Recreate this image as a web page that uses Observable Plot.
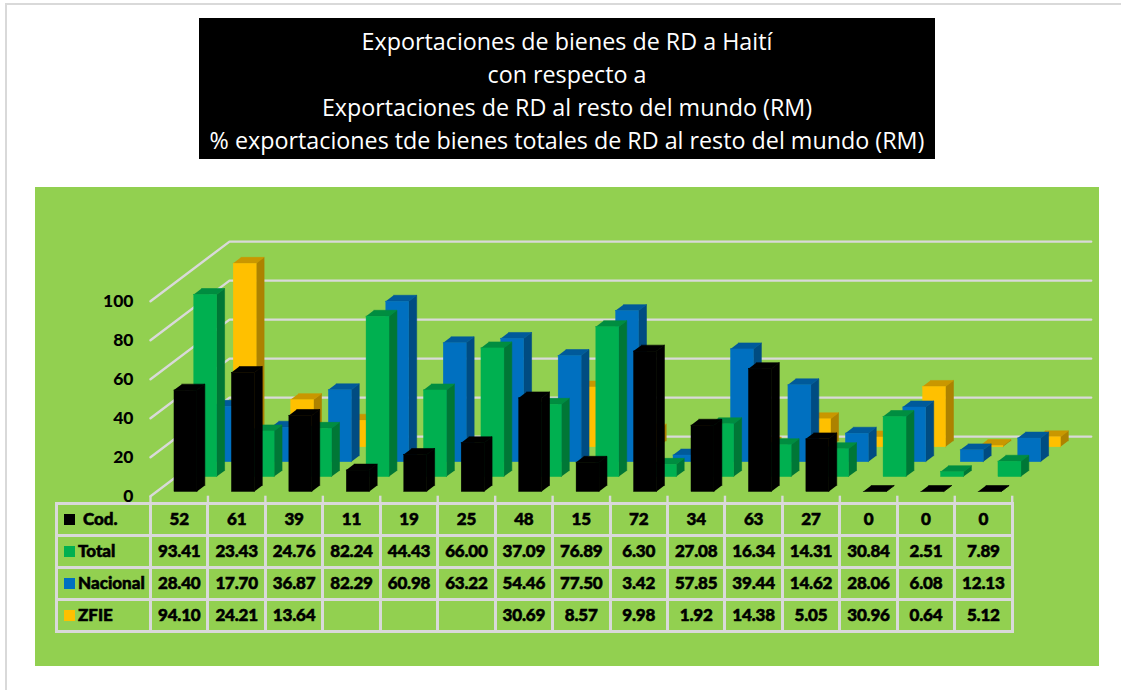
<!DOCTYPE html>
<html lang="es">
<head>
<meta charset="utf-8">
<script src="https://cdn.jsdelivr.net/npm/d3@7"></script>
<script src="https://cdn.jsdelivr.net/npm/@observablehq/plot@0.6"></script>
<style>
  html,body{margin:0;padding:0;background:#fff;width:1121px;height:690px;overflow:hidden}
  #frame{position:absolute;left:5px;top:3px;width:1130px;height:700px;border:2px solid #d9d9d9;box-sizing:border-box}
  #title{position:absolute;left:199px;top:18px;width:736px;height:141px;box-sizing:border-box;background:#000;color:#fff;
    font:23.3px/33px "Open Sans",sans-serif;text-align:center;padding-top:6.5px;white-space:nowrap}
  #panel{position:absolute;left:35px;top:187px;width:1064px;height:479px;background:#92D050}
  #panel svg{position:absolute;left:0;top:0;background:transparent;overflow:visible}
  #table{position:absolute;left:20px;top:315px;table-layout:fixed;border-collapse:collapse;
    font:900 17px Lato,sans-serif;color:#000;-webkit-text-stroke:0.55px #000}
  #table td{border:3px solid #d9d9d9;height:32px;padding:0 0 3px;text-align:center;box-sizing:border-box;letter-spacing:-0.2px}
  #table td.head{text-align:left;white-space:nowrap;letter-spacing:0}
  #table i{display:inline-block;width:11px;height:11px;margin:0 3px 0 6px;vertical-align:-0.5px}
</style>
</head>
<body>
<div id="frame"></div>
<div id="title"></div>
<div id="panel"></div>
<script>
const titleLines = [
  "Exportaciones de bienes de RD a Haití",
  "con respecto a",
  "Exportaciones de RD al resto del mundo (RM)",
  "% exportaciones tde bienes totales de RD al resto del mundo (RM)"
];
const cod      = [52, 61, 39, 11, 19, 25, 48, 15, 72, 34, 63, 27, 0, 0, 0];
const total    = [93.41, 23.43, 24.76, 82.24, 44.43, 66.00, 37.09, 76.89, 6.30, 27.08, 16.34, 14.31, 30.84, 2.51, 7.89];
const nacional = [28.40, 17.70, 36.87, 82.29, 60.98, 63.22, 54.46, 77.50, 3.42, 57.85, 39.44, 14.62, 28.06, 6.08, 12.13];
const zfie     = [94.10, 24.21, 13.64, null, null, null, 30.69, 8.57, 9.98, 1.92, 14.38, 5.05, 30.96, 0.64, 5.12];
const yTicks   = [0, 20, 40, 60, 80, 100];

// back to front, as the depth axis stacks them
const series = [
  {name: "ZFIE",     values: zfie,     slot: 3, front: "#FFC000", side: "#AD8200", top: "#C99700"},
  {name: "Nacional", values: nacional, slot: 2, front: "#0070C0", side: "#004C82", top: "#005A9A"},
  {name: "Total",    values: total,    slot: 1, front: "#00B050", side: "#007736", top: "#008D40"},
  {name: "Cod.",     values: cod,      slot: 0, front: "#000000", side: "#000000", top: "#000000"}
];

// oblique projection of the depth axis onto the chart's own x and y units
const depthX = 0.3438, depthY = 7.64, wall = 4;
const barFrom = 0.3, barTo = 0.7, floorGap = 0.315, barDepth = 0.4;
const px = (c, d) => c + d * depthX;
const py = (v, d) => v + d * depthY;

document.getElementById("title").innerHTML = titleLines.map(t => `<div>${t}</div>`).join("");

const gridRows = yTicks.flatMap(v => [
  {v, x: px(0, 0), y: py(v, 0)},
  {v, x: px(0, wall), y: py(v, wall)},
  {v, x: px(cod.length, wall), y: py(v, wall)}
]);
const bounds = d3.range(cod.length + 1);

const marks = [
  Plot.line(gridRows, {x: "x", y: "y", z: "v", stroke: "#D9D9D9", strokeWidth: 2.4}),
  Plot.ruleX(bounds, {x: d => d, y1: 0, y2: -4, stroke: "#D9D9D9", strokeWidth: 2.4})
];

for (const s of series) {
  const d0 = floorGap + s.slot, d1 = d0 + barDepth;
  const bars = s.values.map((v, i) => ({v, i})).filter(b => b.v != null);
  const rects = bars.map(b => ({
    x1: px(b.i + barFrom, d0), x2: px(b.i + barTo, d0), y1: py(0, d0), y2: py(b.v, d0)
  }));
  const sides = bars.flatMap(b => [
    [b.i + barTo, 0, d0], [b.i + barTo, b.v, d0], [b.i + barTo, b.v, d1], [b.i + barTo, 0, d1]
  ].map(([c, v, d]) => ({id: b.i, x: px(c, d), y: py(v, d)})));
  const tops = bars.flatMap(b => [
    [b.i + barFrom, d0], [b.i + barTo, d0], [b.i + barTo, d1], [b.i + barFrom, d1]
  ].map(([c, d]) => ({id: b.i, x: px(c, d), y: py(b.v, d)})));
  marks.push(
    Plot.line(sides, {x: "x", y: "y", z: "id", fill: s.side, stroke: s.side, strokeWidth: 0.6}),
    Plot.line(tops, {x: "x", y: "y", z: "id", fill: s.top, stroke: s.top, strokeWidth: 0.6}),
    Plot.rect(rects, {x1: "x1", x2: "x2", y1: "y1", y2: "y2", fill: s.front, stroke: s.front, strokeWidth: 0.4, inset: 0, dx: 0.5, dy: 0.5})
  );
}

marks.push(Plot.axisY({
  ticks: yTicks, tickSize: 0, tickPadding: 17, label: null, fontSize: 17.5, fontWeight: 900,
  fontFamily: "Lato, sans-serif", fill: "#000", stroke: "#000", strokeWidth: 0.8
}));

const chart = Plot.plot({
  width: 1064, height: 317, margin: 0, marginLeft: 115, marginRight: 87,
  x: {domain: [0, 15], range: [115, 976.7], axis: null},
  y: {domain: [0, 100], range: [308.7, 113.7], axis: null},
  style: {background: "transparent", overflow: "visible"},
  marks
});
const panel = document.getElementById("panel");
panel.append(chart);

// data table under the plot
const rows = [
  {name: "Cod.", color: "#000000", values: cod, fmt: v => String(v), gap: "8px"},
  {name: "Total", color: "#00B050", values: total, fmt: v => v.toFixed(2)},
  {name: "Nacional", color: "#0070C0", values: nacional, fmt: v => v.toFixed(2)},
  {name: "ZFIE", color: "#FFC000", values: zfie, fmt: v => v.toFixed(2)}
];
const table = document.createElement("table");
table.id = "table";
const cg = document.createElement("colgroup");
cg.innerHTML = `<col style="width:94px">` + cod.map(() => `<col style="width:57.45px">`).join("");
table.append(cg);
for (const r of rows) {
  const tr = document.createElement("tr");
  tr.innerHTML = `<td class="head"><i style="background:${r.color};${r.gap ? "margin-right:" + r.gap : ""}"></i>${r.name}</td>` +
    r.values.map(v => `<td>${v == null ? "" : r.fmt(v)}</td>`).join("");
  table.append(tr);
}
panel.append(table);
</script>
</body>
</html>
